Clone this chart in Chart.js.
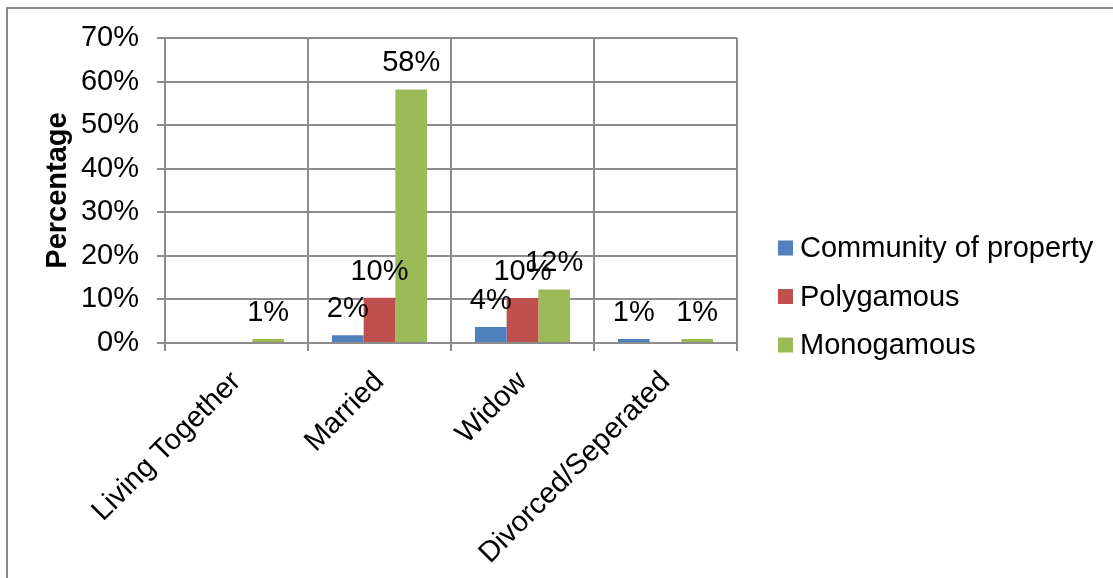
<!DOCTYPE html>
<html lang="en">
<head>
  <meta charset="UTF-8" />
  <title>Percentage by marital status</title>
  <script src="https://cdn.jsdelivr.net/npm/chart.js"></script>
  <style>
    html, body { margin: 0; padding: 0; background: #fff; }
    #wrap { width: 1113px; height: 578px; }
  </style>
</head>
<body>
  <div id="wrap"><canvas id="regimeChart" width="1113" height="578"></canvas></div>

  <script>
    const categories = ['Living Together', 'Married', 'Widow', 'Divorced/Seperated'];
    const seriesNames = ['Community of property', 'Polygamous', 'Monogamous'];
    const community = [0, 1.8, 3.7, 0.9];
    const polygamous = [0, 10.4, 10.3, 0];
    const monogamous = [0.9, 58.2, 12.3, 0.9];
    const colors = ['#4F81BD', '#C0504D', '#9BBB59'];
    const yTicks = [0, 10, 20, 30, 40, 50, 60, 70];

    const FONT = '"Liberation Sans", Arial, sans-serif';
    const FONT_SIZE = 29;
    const gridColor = '#8c8c8c';

    // labels on top of the bars, skipping the empty ones
    const valueLabels = {
      id: 'valueLabels',
      afterDatasetsDraw(chart) {
        const ctx = chart.ctx;
        ctx.save();
        ctx.font = FONT_SIZE + 'px ' + FONT;
        ctx.fillStyle = '#000';
        ctx.textAlign = 'center';
        ctx.textBaseline = 'alphabetic';
        chart.data.datasets.forEach((ds, i) => {
          chart.getDatasetMeta(i).data.forEach((bar, j) => {
            const v = ds.data[j];
            if (!v) return;
            ctx.fillText(Math.round(v) + '%', bar.x, bar.y - 18);
          });
        });
        ctx.restore();
      }
    };

    // legend to the right of the plot, like the spreadsheet one
    const sideLegend = {
      id: 'sideLegend',
      afterDraw(chart) {
        const ctx = chart.ctx;
        const x = chart.chartArea.right + 41;
        const y0 = 248, step = 48.5;
        ctx.save();
        ctx.font = FONT_SIZE + 'px ' + FONT;
        ctx.textBaseline = 'middle';
        ctx.textAlign = 'left';
        chart.data.datasets.forEach((ds, i) => {
          const y = y0 + i * step;
          ctx.fillStyle = ds.backgroundColor;
          ctx.fillRect(x, y - 7.5, 15, 15);
          ctx.fillStyle = '#000';
          ctx.fillText(ds.label, x + 22, y + 1);
        });
        ctx.restore();
      }
    };

    // white background and the outer frame
    const frame = {
      id: 'frame',
      beforeDraw(chart) {
        const ctx = chart.ctx;
        ctx.save();
        ctx.fillStyle = '#fff';
        ctx.fillRect(0, 0, chart.width, chart.height);
        ctx.strokeStyle = '#8a8a8a';
        ctx.lineWidth = 2;
        ctx.beginPath();
        ctx.moveTo(7, chart.height);
        ctx.lineTo(7, 8);
        ctx.lineTo(chart.width, 8);
        ctx.stroke();
        ctx.restore();
      }
    };

    new Chart(document.getElementById('regimeChart'), {
      type: 'bar',
      data: {
        labels: categories,
        datasets: [
          { label: seriesNames[0], data: community, backgroundColor: colors[0] },
          { label: seriesNames[1], data: polygamous, backgroundColor: colors[1] },
          { label: seriesNames[2], data: monogamous, backgroundColor: colors[2] }
        ]
      },
      options: {
        responsive: false,
        animation: false,
        layout: { padding: { left: 41, top: 38, right: 376, bottom: 0 } },
        datasets: {
          bar: { categoryPercentage: 0.665, barPercentage: 1 }
        },
        plugins: {
          legend: { display: false },
          tooltip: { enabled: false }
        },
        scales: {
          x: {
            afterFit(scale) { scale.height = 235; },
            grid: { color: gridColor, lineWidth: 2, offset: true, tickLength: 8 },
            border: { color: gridColor, width: 2 },
            ticks: {
              color: '#000',
              font: { family: FONT, size: FONT_SIZE },
              minRotation: 45,
              maxRotation: 45,
              padding: 14
            }
          },
          y: {
            min: 0,
            max: 70,
            afterFit(scale) { scale.width = 124; },
            afterBuildTicks(scale) { scale.ticks = yTicks.map(v => ({ value: v })); },
            grid: { color: gridColor, lineWidth: 2, tickLength: 8 },
            border: { color: gridColor, width: 2 },
            ticks: {
              color: '#000',
              font: { family: FONT, size: FONT_SIZE },
              padding: 18,
              callback: v => v + '%'
            },
            title: {
              display: true,
              text: 'Percentage',
              color: '#000',
              font: { family: FONT, size: FONT_SIZE, weight: 'bold' },
              padding: 0
            }
          }
        }
      },
      plugins: [frame, valueLabels, sideLegend]
    });
  </script>
</body>
</html>
